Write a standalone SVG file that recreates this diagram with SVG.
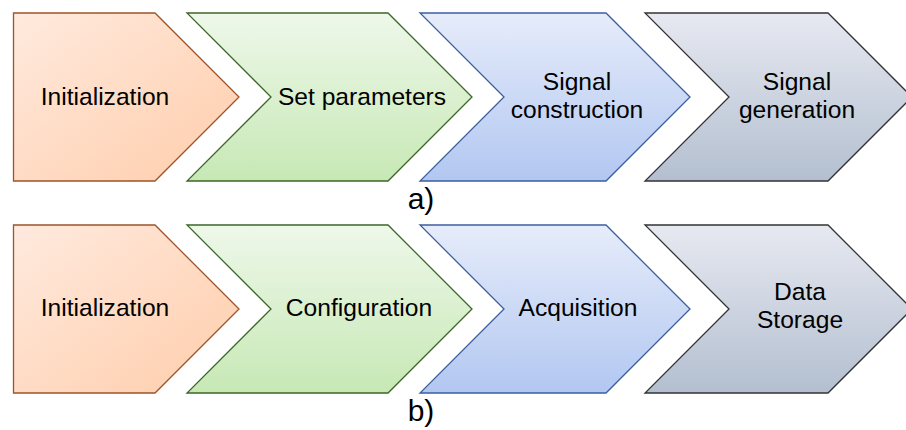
<svg xmlns="http://www.w3.org/2000/svg" width="906" height="430" viewBox="0 0 906 430">
<style>
text{font-family:"Liberation Sans",Arial,sans-serif;font-size:24.6px;fill:#000;text-anchor:middle}
.lbl{font-size:30px}
.s1{fill:url(#gO);stroke:#9c5428;stroke-width:1.3}
.s2{fill:url(#gG);stroke:#3d6629;stroke-width:1.3}
.s3{fill:url(#gB);stroke:#3b5f9e;stroke-width:1.3}
.s4{fill:url(#gK);stroke:#333;stroke-width:1.3}
</style>
<defs>
<linearGradient id="gO" x1="0" y1="0" x2="1" y2="1"><stop offset="0" stop-color="#ffeade"/><stop offset="1" stop-color="#ffcdab"/></linearGradient>
<linearGradient id="gG" x1="0" y1="0" x2="0" y2="1"><stop offset="0" stop-color="#eef8ea"/><stop offset="1" stop-color="#c7e8b5"/></linearGradient>
<linearGradient id="gB" x1="0" y1="0" x2="0" y2="1"><stop offset="0" stop-color="#e6ecfa"/><stop offset="1" stop-color="#b2c7f1"/></linearGradient>
<linearGradient id="gK" x1="0" y1="0" x2="0" y2="1"><stop offset="0" stop-color="#e7e9f1"/><stop offset="1" stop-color="#b3bfd0"/></linearGradient>
</defs>
<g id="connectors"/>
<g id="a-init"><path class="s1" d="M13.5,13 H155 L239,97 L155,181 H13.5 Z"/><text x="105" y="105">Initialization</text></g>
<g id="a-set"><path class="s2" d="M187,13 H388 L472,97 L388,181 H187 L271,97 Z"/><text x="362" y="105">Set parameters</text></g>
<g id="a-cons"><path class="s3" d="M420,13 H606 L690,97 L606,181 H420 L504,97 Z"/><text x="577" y="89.5">Signal</text><text x="577" y="117.5">construction</text></g>
<g id="a-gen"><path class="s4" d="M645,13 H828 L912,97 L828,181 H645 L729,97 Z"/><text x="797" y="89.5">Signal</text><text x="797" y="117.5">generation</text></g>
<text class="lbl" x="421" y="209">a)</text>
<g id="b-init"><path class="s1" d="M13.5,225 H155 L239,309 L155,393 H13.5 Z"/><text x="105" y="316">Initialization</text></g>
<g id="b-conf"><path class="s2" d="M187,225 H388 L472,309 L388,393 H187 L271,309 Z"/><text x="359" y="316">Configuration</text></g>
<g id="b-acq"><path class="s3" d="M420,225 H606 L690,309 L606,393 H420 L504,309 Z"/><text x="578" y="316">Acquisition</text></g>
<g id="b-store"><path class="s4" d="M645,225 H828 L912,309 L828,393 H645 L729,309 Z"/><text x="800" y="300">Data</text><text x="800" y="328">Storage</text></g>
<text class="lbl" x="421" y="421">b)</text>
</svg>
